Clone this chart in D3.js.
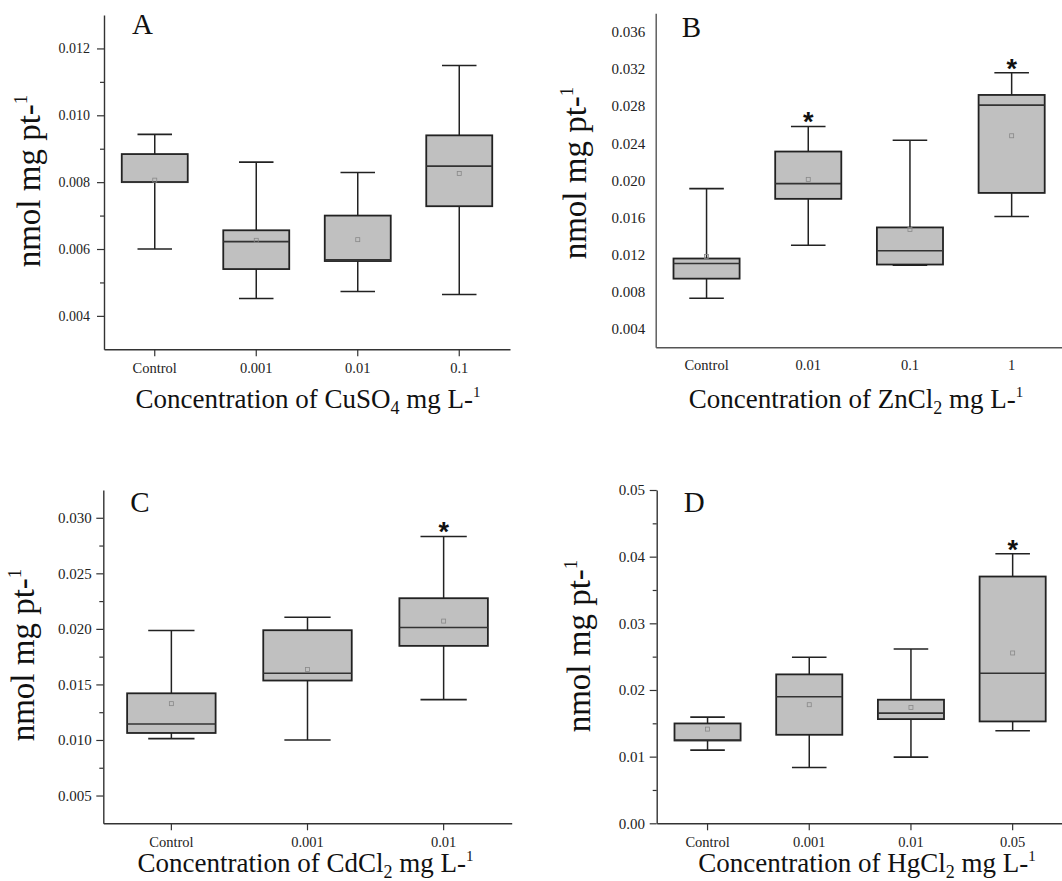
<!DOCTYPE html>
<html><head><meta charset="utf-8">
<script src="https://cdn.jsdelivr.net/npm/d3@7"></script>
<style>body{margin:0;background:#fff} svg{display:block}</style>
</head><body>
<svg id="c" width="1062" height="881" style="font-family:'Liberation Serif',serif"></svg>
<script>
// ---------- Panel A : CuSO4 ----------
const catsA = ["Control","0.001","0.01","0.1"];
const whiskLowA  = [0.0060, 0.00452, 0.00473, 0.00464];
const q1A        = [0.0080, 0.00540, 0.00564, 0.00728];
const medA       = [0.0080, 0.00622, 0.00568, 0.00848];
const q3A        = [0.00884,0.00656, 0.00700, 0.00940];
const whiskHighA = [0.00943,0.00860, 0.00829, 0.01149];
const meanA      = [0.00806,0.00626, 0.00628, 0.00826];
const sigA       = [false,false,false,false];
const yTicksA    = [0.004,0.006,0.008,0.010,0.012];
const yMinorA    = [0.005,0.007,0.009,0.011];

// ---------- Panel B : ZnCl2 ----------
const catsB = ["Control","0.01","0.1","1"];
const whiskLowB  = [0.00728,0.0130, 0.01085,0.0161];
const q1B        = [0.0094, 0.0180, 0.01092,0.01864];
const medB       = [0.01103,0.01964,0.0124, 0.0281];
const q3B        = [0.01157,0.0231, 0.01492,0.0292];
const whiskHighB = [0.0191, 0.0258, 0.02432,0.0316];
const meanB      = [0.0118, 0.0201, 0.0147, 0.0248];
const sigB       = [false,true,false,true];
const yTicksB    = [0.004,0.008,0.012,0.016,0.020,0.024,0.028,0.032,0.036];

// ---------- Panel C : CdCl2 ----------
const catsC = ["Control","0.001","0.01"];
const whiskLowC  = [0.01012,0.0100, 0.01363];
const q1C        = [0.01063,0.01535,0.01847];
const medC       = [0.01144,0.0160, 0.02012];
const q3C        = [0.0142, 0.01988,0.02276];
const whiskHighC = [0.01985,0.02105,0.02832];
const meanC      = [0.01327,0.01634,0.0207];
const sigC       = [false,false,true];
const yTicksC    = [0.005,0.010,0.015,0.020,0.025,0.030];
const yMinorC    = [0.0075,0.0125,0.0175,0.0225,0.0275];

// ---------- Panel D : HgCl2 ----------
const catsD = ["Control","0.001","0.01","0.05"];
const whiskLowD  = [0.01097,0.00837,0.00992,0.01388];
const q1D        = [0.01242,0.01328,0.01563,0.01528];
const medD       = [0.01250,0.01899,0.01653,0.0225];
const q3D        = [0.01498,0.02234,0.01854,0.03702];
const whiskHighD = [0.01593,0.0249, 0.02615,0.04043];
const meanD      = [0.01413,0.01779,0.01738,0.02555];
const sigD       = [false,false,false,true];
const yTicksD    = [0.00,0.01,0.02,0.03,0.04,0.05];
const yMinorD    = [0.005,0.015,0.025,0.035,0.045];

const SERIF = "'Liberation Serif', 'Times New Roman', serif";
const svg = d3.select("#c");

function panel(o){
  const g = svg.append("g");
  const x = d3.scaleBand().domain(o.cats).range([o.left,o.right]).paddingInner(0).paddingOuter(0);
  const y = d3.scaleLinear().domain(o.domain).range([o.bottom,o.top]);
  const step = x.bandwidth();
  const bw = step*0.65, cw = step*0.34;

  // y axis
  const ya = g.append("g").attr("transform",`translate(${o.left},0)`)
    .call(d3.axisLeft(y).tickValues(o.yTicks).tickFormat(d3.format(o.fmt))
      .tickSize(o.showTicks?7:0).tickPadding(o.ypad).tickSizeOuter(0));
  ya.attr("font-family",null);
  ya.select(".domain").attr("stroke",o.axisColor).attr("stroke-width",1.4);
  ya.selectAll(".tick line").attr("stroke",o.axisColor).attr("stroke-width",1.2);
  ya.selectAll(".tick text").attr("font-size",o.yfs).style("font-family",SERIF).attr("fill","#222");
  if(o.yMinor){
    const ym = g.append("g").attr("transform",`translate(${o.left},0)`)
      .call(d3.axisLeft(y).tickValues(o.yMinor).tickFormat("").tickSize(4).tickSizeOuter(0));
    ym.select(".domain").remove();
    ym.selectAll(".tick line").attr("stroke",o.axisColor).attr("stroke-width",1.2);
  }
  // x axis
  const xa = g.append("g").attr("transform",`translate(0,${o.bottom})`)
    .call(d3.axisBottom(x).tickSize(o.showTicks?7:0).tickSizeOuter(0));
  xa.attr("font-family",null);
  xa.select(".domain").attr("stroke",o.axisColor).attr("stroke-width",1.4);
  xa.selectAll(".tick line").attr("stroke",o.axisColor).attr("stroke-width",1.2);
  xa.selectAll(".tick text").attr("font-size",14.5).style("font-family",SERIF)
    .attr("fill","#222").attr("y",o.xlabOff).attr("dy",0);

  const data = o.cats.map((c,i)=>({c,lo:o.lo[i],q1:o.q1[i],med:o.med[i],q3:o.q3[i],hi:o.hi[i],mean:o.mean[i],sig:o.sig[i]}));
  const bx = g.selectAll("g.box").data(data).enter().append("g");
  const cx = d=>x(d.c)+step/2;
  // whiskers
  bx.append("line").attr("x1",cx).attr("x2",cx).attr("y1",d=>y(d.hi)).attr("y2",d=>y(d.q3)).attr("stroke","#222").attr("stroke-width",1.5);
  bx.append("line").attr("x1",cx).attr("x2",cx).attr("y1",d=>y(d.q1)).attr("y2",d=>y(d.lo)).attr("stroke","#222").attr("stroke-width",1.5);
  bx.append("line").attr("x1",d=>cx(d)-cw/2).attr("x2",d=>cx(d)+cw/2).attr("y1",d=>y(d.hi)).attr("y2",d=>y(d.hi)).attr("stroke","#222").attr("stroke-width",1.6);
  bx.append("line").attr("x1",d=>cx(d)-cw/2).attr("x2",d=>cx(d)+cw/2).attr("y1",d=>y(d.lo)).attr("y2",d=>y(d.lo)).attr("stroke","#222").attr("stroke-width",1.6);
  // box
  bx.append("rect").attr("x",d=>cx(d)-bw/2).attr("width",bw)
    .attr("y",d=>y(d.q3)).attr("height",d=>Math.max(1,y(d.q1)-y(d.q3)))
    .attr("fill","#c0c0c0").attr("stroke","#222").attr("stroke-width",1.8);
  // median
  bx.append("line").attr("x1",d=>cx(d)-bw/2).attr("x2",d=>cx(d)+bw/2).attr("y1",d=>y(d.med)).attr("y2",d=>y(d.med)).attr("stroke","#333").attr("stroke-width",1.6);
  // mean marker
  bx.append("rect").attr("x",d=>cx(d)-2).attr("y",d=>y(d.mean)-2).attr("width",4).attr("height",4)
    .attr("fill","none").attr("stroke","#888").attr("stroke-width",0.8);
  // significance
  bx.filter(d=>d.sig).append("text").attr("x",cx).attr("y",d=>y(d.hi)+5).attr("text-anchor","middle")
    .attr("font-size",27).attr("font-weight","bold").style("font-family","'Liberation Sans', Arial, sans-serif").attr("fill","#111").text("*");

  // panel letter
  g.append("text").attr("x",o.left+o.letterDx).attr("y",o.letterY).attr("font-size",29).style("font-family",SERIF).attr("fill","#111").text(o.letter);

  // y title
  const yt = g.append("text").attr("transform",`translate(${o.ytx},${o.yty}) rotate(-90)`)
    .attr("text-anchor","middle").attr("font-size",33).style("font-family",SERIF).attr("fill","#111");
  yt.append("tspan").text("nmol mg pt-");
  yt.append("tspan").attr("font-size",19).attr("dy",-13).text("1");

  // x title
  const xt = g.append("text").attr("x",(o.left+o.right)/2+o.xtdx).attr("y",o.xty).attr("text-anchor","middle").attr("font-size",27).style("font-family",SERIF).attr("fill","#111");
  xt.append("tspan").text("Concentration of " + o.chem);
  xt.append("tspan").attr("font-size",18).attr("dy",6).text(o.sub);
  xt.append("tspan").attr("dy",-6).text(" mg L-");
  xt.append("tspan").attr("font-size",15).attr("dy",-11).text("1");
}

panel({cats:catsA,lo:whiskLowA,q1:q1A,med:medA,q3:q3A,hi:whiskHighA,mean:meanA,sig:sigA,
  yTicks:yTicksA,yMinor:yMinorA,domain:[0.003,0.013],fmt:".3f",
  left:104,right:510,top:15,bottom:349.3,showTicks:true,ypad:7,yfs:14,axisColor:"#333",xlabOff:23.4,
  letter:"A",letterDx:28,letterY:34,ytx:40,yty:181,xty:408,xtdx:1,chem:"CuSO",sub:"4"});

panel({cats:catsB,lo:whiskLowB,q1:q1B,med:medB,q3:q3B,hi:whiskHighB,mean:meanB,sig:sigB,
  yTicks:yTicksB,yMinor:null,domain:[0.002,0.038],fmt:".3f",
  left:655.7,right:1062.5,top:13.3,bottom:347.3,showTicks:false,ypad:10.5,yfs:15,axisColor:"#555",xlabOff:22.7,
  letter:"B",letterDx:26,letterY:37,ytx:586,yty:173,xty:408,xtdx:-3,chem:"ZnCl",sub:"2"});

panel({cats:catsC,lo:whiskLowC,q1:q1C,med:medC,q3:q3C,hi:whiskHighC,mean:meanC,sig:sigC,
  yTicks:yTicksC,yMinor:yMinorC,domain:[0.0025,0.0325],fmt:".3f",
  left:103.3,right:511.7,top:490,bottom:823.3,showTicks:true,ypad:4.6,yfs:15,axisColor:"#333",xlabOff:23.4,
  letter:"C",letterDx:27,letterY:512,ytx:34,yty:655,xty:872,xtdx:-2,chem:"CdCl",sub:"2"});

panel({cats:catsD,lo:whiskLowD,q1:q1D,med:medD,q3:q3D,hi:whiskHighD,mean:meanD,sig:sigD,
  yTicks:yTicksD,yMinor:yMinorD,domain:[0,0.05],fmt:".2f",
  left:656.7,right:1063.5,top:490,bottom:823.3,showTicks:true,ypad:4.7,yfs:15,axisColor:"#333",xlabOff:23.7,
  letter:"D",letterDx:27,letterY:512,ytx:590,yty:646,xty:872,xtdx:7,chem:"HgCl",sub:"2"});
</script>
</body></html>
